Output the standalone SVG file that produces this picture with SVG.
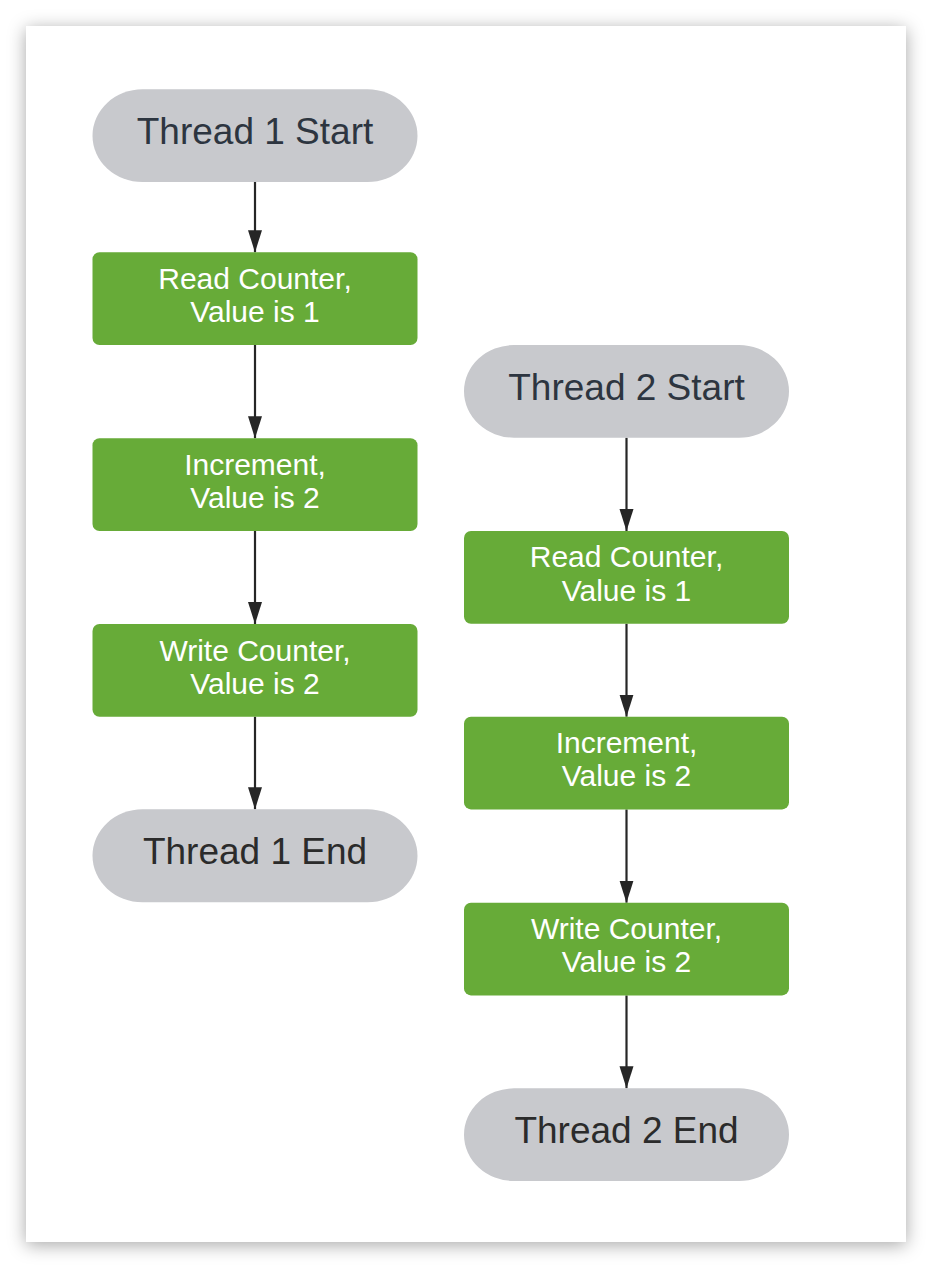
<svg xmlns="http://www.w3.org/2000/svg" width="932" height="1268" viewBox="0 0 932 1268">
  <defs>
    <filter id="shadow" x="-10%" y="-10%" width="120%" height="120%">
      <feDropShadow dx="0" dy="3" stdDeviation="9" flood-color="#000000" flood-opacity="0.35"/>
    </filter>
    <marker id="arrow" markerUnits="userSpaceOnUse" markerWidth="24" markerHeight="16" viewBox="0 0 24 16" refX="22" refY="8" orient="auto">
      <path d="M0,1 L22,8 L0,15 Z" fill="#262626"/>
    </marker>
    <style>
      .term { fill: #c8c9cd; }
      .proc { fill: #67ab38; }
      .tstart { font-family: "Liberation Sans", Arial, sans-serif; font-size: 37px; fill: #2d3540; text-anchor: middle; }
      .tend { font-family: "Liberation Sans", Arial, sans-serif; font-size: 37px; fill: #2b2b2b; text-anchor: middle; }
      .ptext { font-family: "Liberation Sans", Arial, sans-serif; font-size: 30px; fill: #ffffff; text-anchor: middle; }
      .conn { stroke: #262626; stroke-width: 2.2; fill: none; }
    </style>
  </defs>
  <rect x="0" y="0" width="932" height="1268" fill="#ffffff"/>
  <rect x="26" y="26" width="880" height="1216" fill="#ffffff" filter="url(#shadow)"/>

  <g id="connectors">
    <line class="conn" x1="255" y1="182" x2="255" y2="252.3" marker-end="url(#arrow)"/>
    <line class="conn" x1="255" y1="345" x2="255" y2="438.3" marker-end="url(#arrow)"/>
    <line class="conn" x1="255" y1="531" x2="255" y2="624" marker-end="url(#arrow)"/>
    <line class="conn" x1="255" y1="716.7" x2="255" y2="809.3" marker-end="url(#arrow)"/>
    <line class="conn" x1="626.5" y1="437.7" x2="626.5" y2="531" marker-end="url(#arrow)"/>
    <line class="conn" x1="626.5" y1="623.7" x2="626.5" y2="716.7" marker-end="url(#arrow)"/>
    <line class="conn" x1="626.5" y1="809.4" x2="626.5" y2="902.7" marker-end="url(#arrow)"/>
    <line class="conn" x1="626.5" y1="995.4" x2="626.5" y2="1088.3" marker-end="url(#arrow)"/>
  </g>

  <g id="thread1-start">
    <path class="term" d="M142.5,89.3 H367.5 A50,46.35 0 0 1 367.5,182 H142.5 A50,46.35 0 0 1 142.5,89.3 Z"/>
    <text class="tstart" x="255" y="144">Thread 1 Start</text>
  </g>
  <g id="thread1-read">
    <rect class="proc" x="92.5" y="252.3" width="325" height="92.7" rx="7"/>
    <text class="ptext" x="255" y="288.6">Read Counter,</text>
    <text class="ptext" x="255" y="321.8">Value is 1</text>
  </g>
  <g id="thread1-increment">
    <rect class="proc" x="92.5" y="438.3" width="325" height="92.7" rx="7"/>
    <text class="ptext" x="255" y="474.8">Increment,</text>
    <text class="ptext" x="255" y="507.8">Value is 2</text>
  </g>
  <g id="thread1-write">
    <rect class="proc" x="92.5" y="624" width="325" height="92.7" rx="7"/>
    <text class="ptext" x="255" y="660.5">Write Counter,</text>
    <text class="ptext" x="255" y="693.8">Value is 2</text>
  </g>
  <g id="thread1-end">
    <path class="term" d="M142.5,809.3 H367.5 A50,46.5 0 0 1 367.5,902.3 H142.5 A50,46.5 0 0 1 142.5,809.3 Z"/>
    <text class="tend" x="255" y="864.3">Thread 1 End</text>
  </g>

  <g id="thread2-start">
    <path class="term" d="M514,345 H739 A50,46.35 0 0 1 739,437.7 H514 A50,46.35 0 0 1 514,345 Z"/>
    <text class="tstart" x="626.5" y="399.5">Thread 2 Start</text>
  </g>
  <g id="thread2-read">
    <rect class="proc" x="464" y="531" width="325" height="92.7" rx="7"/>
    <text class="ptext" x="626.5" y="567.4">Read Counter,</text>
    <text class="ptext" x="626.5" y="600.5">Value is 1</text>
  </g>
  <g id="thread2-increment">
    <rect class="proc" x="464" y="716.7" width="325" height="92.7" rx="7"/>
    <text class="ptext" x="626.5" y="753.1">Increment,</text>
    <text class="ptext" x="626.5" y="786.2">Value is 2</text>
  </g>
  <g id="thread2-write">
    <rect class="proc" x="464" y="902.7" width="325" height="92.7" rx="7"/>
    <text class="ptext" x="626.5" y="939.1">Write Counter,</text>
    <text class="ptext" x="626.5" y="972.2">Value is 2</text>
  </g>
  <g id="thread2-end">
    <path class="term" d="M514,1088.3 H739 A50,46.35 0 0 1 739,1181 H514 A50,46.35 0 0 1 514,1088.3 Z"/>
    <text class="tend" x="626.5" y="1143.3">Thread 2 End</text>
  </g>
</svg>
